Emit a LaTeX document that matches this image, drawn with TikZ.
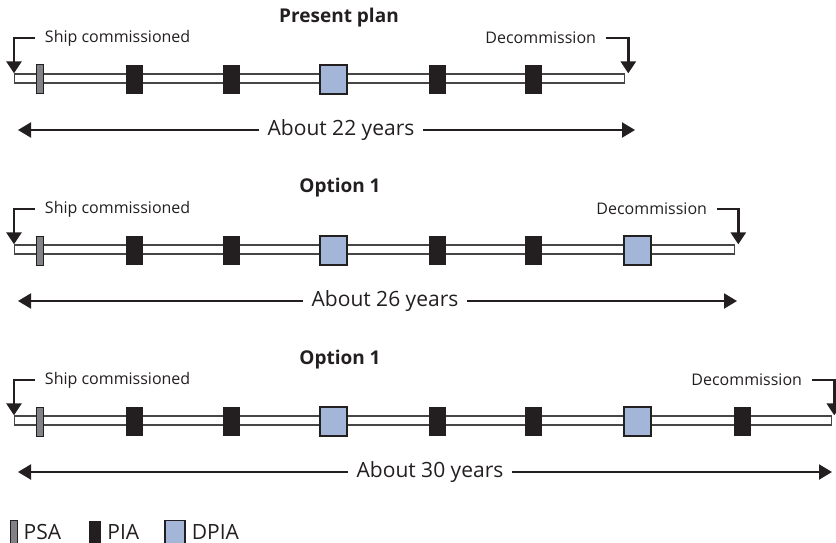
\documentclass[tikz,border=0pt]{standalone}
\usepackage{fontspec}
\setmainfont{Open Sans}
\usepackage{tikz}
\usetikzlibrary{arrows.meta, positioning}
\definecolor{inkblack}{RGB}{35,31,32}
\definecolor{psagray}{RGB}{128,130,133}
\definecolor{dpiablue}{RGB}{163,182,215}
\definecolor{bargray}{RGB}{70,70,70}

\begin{document}
\begin{tikzpicture}[
    x=1pt, y=-1pt,
    bar/.style={draw=bargray, line width=1.3pt, fill=white, minimum height=9pt, inner sep=0pt, anchor=west},
    psa/.style={draw=inkblack, line width=1pt, fill=psagray, minimum width=7pt, minimum height=29pt, inner sep=0pt},
    pia/.style={fill=inkblack, minimum width=17pt, minimum height=29pt, inner sep=0pt},
    dpia/.style={draw=inkblack, line width=1.2pt, fill=dpiablue, minimum width=27pt, minimum height=29pt, inner sep=0pt},
    title/.style={font=\fontsize{19}{22}\selectfont\bfseries, text=inkblack},
    event/.style={font=\fontsize{16}{18}\selectfont, text=inkblack, inner sep=0pt, outer sep=10pt},
    span/.style={font=\fontsize{21}{24}\selectfont, text=inkblack, inner sep=0pt, outer sep=9pt},
    legend/.style={font=\fontsize{21}{24}\selectfont, text=inkblack, inner sep=0pt},
    bent/.style={draw=inkblack, line width=2.8pt, -{Triangle[length=12pt, width=15pt]}},
    long/.style={draw=inkblack, line width=2.2pt, -{Triangle[length=13pt, width=15pt]}}
]
\useasboundingbox (0,0) rectangle (836,543);

% Present plan
\node[title] (title1) at (339,18) {Present plan};
\node[bar, minimum width=610pt] (bar1) at (14,78.5) {};
\node[psa] (psa1) at (39.5,79.5) {};
\node[pia] (pia1a) at (134.5,79.5) {};
\node[pia] (pia1b) at (231,79.5) {};
\node[dpia] (dpia1a) at (333.5,79.5) {};
\node[pia] (pia1c) at (437.5,79.5) {};
\node[pia] (pia1d) at (533.5,79.5) {};
\node[event, anchor=west] (start1) at (35,38) {Ship commissioned};
\node[event, anchor=east] (end1) at (606,38) {Decommission};
\draw[bent] (start1.west) -| (bar1.north west);
\draw[bent] (end1.east) -| ([xshift=3pt]bar1.north east);
\node[span] (years1) at (341,130) {About 22 years};
\coordinate (from1) at (18,130);
\coordinate (to1) at (635,130);
\draw[long] (years1.west) -- (from1);
\draw[long] (years1.east) -- (to1);

% Option 1 (26 years)
\node[title] (title2) at (340,188) {Option 1};
\node[bar, minimum width=720pt] (bar2) at (14,249.5) {};
\node[psa] (psa2) at (39.5,250.5) {};
\node[pia] (pia2a) at (134.5,250.5) {};
\node[pia] (pia2b) at (231,250.5) {};
\node[dpia] (dpia2a) at (333.5,250.5) {};
\node[pia] (pia2c) at (437.5,250.5) {};
\node[pia] (pia2d) at (533.5,250.5) {};
\node[dpia] (dpia2b) at (637.5,250.5) {};
\node[event, anchor=west] (start2) at (35,209) {Ship commissioned};
\node[event, anchor=east] (end2) at (717,209) {Decommission};
\draw[bent] (start2.west) -| (bar2.north west);
\draw[bent] (end2.east) -| ([xshift=3pt]bar2.north east);
\node[span] (years2) at (385,301) {About 26 years};
\coordinate (from2) at (18,301);
\coordinate (to2) at (737,301);
\draw[long] (years2.west) -- (from2);
\draw[long] (years2.east) -- (to2);

% Option 1 (30 years)
\node[title] (title3) at (340,360) {Option 1};
\node[bar, minimum width=817pt] (bar3) at (14,420.5) {};
\node[psa] (psa3) at (39.5,421.5) {};
\node[pia] (pia3a) at (134.5,421.5) {};
\node[pia] (pia3b) at (231,421.5) {};
\node[dpia] (dpia3a) at (333.5,421.5) {};
\node[pia] (pia3c) at (437.5,421.5) {};
\node[pia] (pia3d) at (533.5,421.5) {};
\node[dpia] (dpia3b) at (637.5,421.5) {};
\node[pia] (pia3e) at (742,421.5) {};
\node[event, anchor=west] (start3) at (35,380) {Ship commissioned};
\node[event, anchor=east] (end3) at (812,380) {Decommission};
\draw[bent] (start3.west) -| (bar3.north west);
\draw[bent] (end3.east) -| ([xshift=2pt]bar3.north east);
\node[span] (years3) at (430,472) {About 30 years};
\coordinate (from3) at (18,472);
\coordinate (to3) at (832,472);
\draw[long] (years3.west) -- (from3);
\draw[long] (years3.east) -- (to3);

% Legend
\node[psa, minimum height=23pt] (keypsa) at (13.5,532) {};
\node[legend, right=6pt of keypsa] (textpsa) {PSA};
\node[pia, minimum width=12pt, minimum height=23pt] (keypia) at (95,532) {};
\node[legend, right=6pt of keypia] (textpia) {PIA};
\node[dpia, minimum width=20pt, minimum height=23pt] (keydpia) at (175,532) {};
\node[legend, right=6pt of keydpia] (textdpia) {DPIA};

\end{tikzpicture}
\end{document}
